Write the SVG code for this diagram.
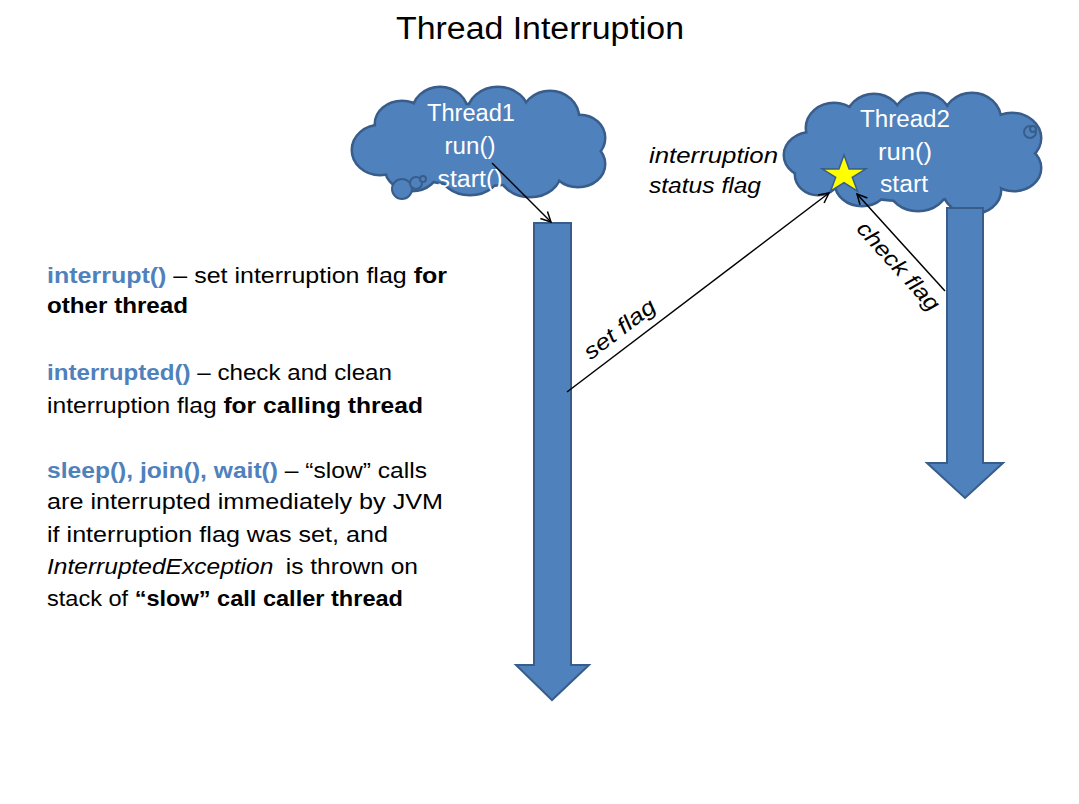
<svg xmlns="http://www.w3.org/2000/svg" width="1079" height="804" viewBox="0 0 1079 804">
<style>
text{font-family:"Liberation Sans",Arial,sans-serif;}
.title{font-size:31px;fill:#000;}
.body{font-size:22px;fill:#000;}
.b{font-weight:bold;}
.blue{fill:#4F81BD;font-weight:bold;}
.it{font-style:italic;}
.ct{font-size:23px;fill:#fff;text-anchor:middle;}
.lbl{font-size:22px;font-style:italic;fill:#000;}
.cs{fill:none;stroke:#385D8A;stroke-width:5;}
.cf{fill:#4F81BD;stroke:none;}
.flow{fill:#4F81BD;stroke:#385D8A;stroke-width:2;}
.conn{stroke:#000;stroke-width:1.5;fill:none;marker-end:url(#ah);}
</style>
<defs>
<marker id="ah" viewBox="0 0 12 12" refX="11" refY="6" markerWidth="12" markerHeight="12" markerUnits="userSpaceOnUse" orient="auto">
<path d="M1,1 L11,6 L1,11" fill="none" stroke="#000" stroke-width="1.5"/>
</marker>
<g id="c1shapes">
<ellipse cx="380" cy="150" rx="27" ry="24"/>
<ellipse cx="402" cy="124" rx="26" ry="22"/>
<ellipse cx="440" cy="113" rx="27" ry="25"/>
<ellipse cx="498" cy="114" rx="30" ry="26"/>
<ellipse cx="550" cy="118" rx="28" ry="26"/>
<ellipse cx="580" cy="138" rx="24" ry="22"/>
<ellipse cx="578" cy="164" rx="26" ry="22"/>
<ellipse cx="530" cy="172" rx="30" ry="24"/>
<ellipse cx="470" cy="170" rx="30" ry="24"/>
<ellipse cx="412" cy="168" rx="26" ry="22"/>
<ellipse cx="478" cy="145" rx="100" ry="40"/>
</g>
<g id="c2shapes">
<ellipse cx="812" cy="155" rx="27" ry="22"/>
<ellipse cx="834" cy="128" rx="27" ry="24"/>
<ellipse cx="874" cy="120" rx="27" ry="25"/>
<ellipse cx="922" cy="119" rx="28" ry="25"/>
<ellipse cx="972" cy="120" rx="28" ry="26"/>
<ellipse cx="1012" cy="138" rx="28" ry="24"/>
<ellipse cx="1014" cy="168" rx="26" ry="22"/>
<ellipse cx="972" cy="190" rx="28" ry="23"/>
<ellipse cx="918" cy="188" rx="28" ry="22"/>
<ellipse cx="862" cy="183" rx="26" ry="22"/>
<ellipse cx="818" cy="174" rx="22" ry="20"/>
<ellipse cx="912" cy="155" rx="110" ry="45"/>
</g>
</defs>
<rect width="1079" height="804" fill="#fff"/>

<text class="title" x="540" y="39" text-anchor="middle" textLength="288" lengthAdjust="spacingAndGlyphs">Thread Interruption</text>

<g id="thread1">
<use href="#c1shapes" class="cs"/>
<use href="#c1shapes" class="cf"/>
<circle cx="402" cy="189" r="10" class="flow"/>
<circle cx="416" cy="183" r="6" class="flow"/>
<circle cx="423" cy="179" r="3" class="flow"/>
<text class="ct" x="471" y="121" textLength="88" lengthAdjust="spacingAndGlyphs">Thread1</text>
<text class="ct" x="470" y="154" textLength="51" lengthAdjust="spacingAndGlyphs">run()</text>
<text class="ct" x="470" y="187" textLength="65" lengthAdjust="spacingAndGlyphs">start()</text>
</g>

<g id="thread2">
<use href="#c2shapes" class="cs"/>
<use href="#c2shapes" class="cf"/>
<circle cx="1030" cy="132" r="6" class="flow"/>
<circle cx="1033" cy="129" r="3" class="flow"/>
<text class="ct" x="905" y="127" textLength="90" lengthAdjust="spacingAndGlyphs">Thread2</text>
<text class="ct" x="905" y="160" textLength="54" lengthAdjust="spacingAndGlyphs">run()</text>
<text class="ct" x="904" y="192" textLength="48" lengthAdjust="spacingAndGlyphs">start</text>
</g>

<g id="flagstar">
<polygon points="844,155 849.1,168.9 865.9,168.8 852.3,177.3 857.5,191.2 844,182.6 830.5,191.2 835.7,177.3 822.1,168.8 838.9,168.9" fill="#FFFF00" stroke="#385D8A" stroke-width="1.5"/>
</g>

<g id="timeline1">
<path class="flow" d="M534,223 H571 V665 H589 L552,700 L516,665 H534 Z"/>
</g>
<g id="timeline2">
<path class="flow" d="M947,208 H983 V463 H1003 L965,498 L927,463 H947 Z"/>
</g>

<g id="connectors">
<line class="conn" x1="492" y1="163" x2="551" y2="222"/>
<line class="conn" x1="567" y1="392" x2="829" y2="193"/>
<line class="conn" x1="945" y1="291" x2="857" y2="194"/>
<text class="lbl" transform="translate(624,335) rotate(-37.3)" text-anchor="middle" textLength="84" lengthAdjust="spacingAndGlyphs">set flag</text>
<text class="lbl" transform="translate(893,271) rotate(47.8)" text-anchor="middle" textLength="112" lengthAdjust="spacingAndGlyphs">check flag</text>
</g>

<g id="flaglabel">
<text class="lbl" x="649" y="163" textLength="129" lengthAdjust="spacingAndGlyphs">interruption</text>
<text class="lbl" x="649" y="193" textLength="112" lengthAdjust="spacingAndGlyphs">status flag</text>
</g>

<g id="notes">
<text class="body" x="47" y="283" textLength="400" lengthAdjust="spacingAndGlyphs"><tspan class="blue">interrupt()</tspan> – set interruption flag <tspan class="b">for</tspan></text>
<text class="body b" x="47" y="313" textLength="141" lengthAdjust="spacingAndGlyphs">other thread</text>
<text class="body" x="47" y="380" textLength="345" lengthAdjust="spacingAndGlyphs"><tspan class="blue">interrupted()</tspan> – check and clean</text>
<text class="body" x="47" y="413" textLength="376" lengthAdjust="spacingAndGlyphs">interruption flag <tspan class="b">for calling thread</tspan></text>
<text class="body" x="47" y="478" textLength="380" lengthAdjust="spacingAndGlyphs"><tspan class="blue">sleep(), join(), wait()</tspan> – “slow” calls</text>
<text class="body" x="47" y="509" textLength="396" lengthAdjust="spacingAndGlyphs">are interrupted immediately by JVM</text>
<text class="body" x="47" y="542" textLength="341" lengthAdjust="spacingAndGlyphs">if interruption flag was set, and</text>
<text class="body" x="47" y="574" textLength="371" lengthAdjust="spacingAndGlyphs"><tspan class="it">InterruptedException</tspan> <tspan dx="5">is thrown on</tspan></text>
<text class="body" x="47" y="606" textLength="356" lengthAdjust="spacingAndGlyphs">stack of <tspan class="b">“slow” call caller thread</tspan></text>
</g>
</svg>
